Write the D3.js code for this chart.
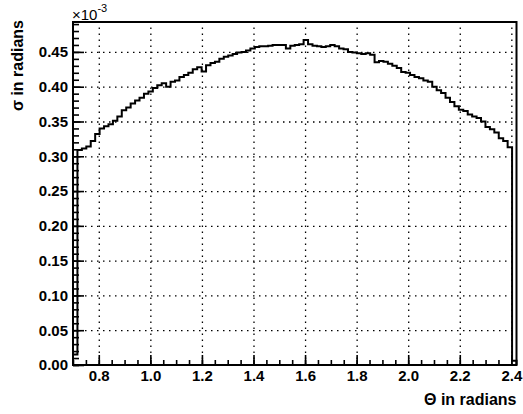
<!DOCTYPE html>
<html>
<head>
<meta charset="utf-8">
<script src="https://cdn.jsdelivr.net/npm/d3@7"></script>
<style>
  body { margin: 0; background: #fff; }
  svg { display: block; font-family: "Liberation Sans", Arial, Helvetica, sans-serif; }
  .grid line { stroke: #000; stroke-width: 1.3; stroke-dasharray: 1.5,4.5; }
</style>
</head>
<body>
<svg id="chart" width="523" height="414"></svg>
<script>
// histogram binning (theta, radians)
const binLow = 0.70;
const binHigh = 2.42;
const nBins = 100;

// sigma per bin, in units of 1e-3 rad
const sigmaValues = [
  0.015, 0.309, 0.311, 0.314, 0.322, 0.332, 0.340, 0.343, 0.346, 0.351,
  0.357, 0.366, 0.370, 0.376, 0.380, 0.384, 0.390, 0.393, 0.398, 0.402,
  0.405, 0.400, 0.407, 0.409, 0.414, 0.417, 0.420, 0.425, 0.428, 0.422,
  0.431, 0.434, 0.436, 0.440, 0.443, 0.445, 0.447, 0.449, 0.450, 0.452,
  0.455, 0.457, 0.458, 0.458, 0.459, 0.460, 0.460, 0.460, 0.455, 0.459,
  0.460, 0.461, 0.467, 0.461, 0.459, 0.458, 0.457, 0.458, 0.460, 0.458,
  0.455, 0.454, 0.450, 0.449, 0.448, 0.447, 0.448, 0.446, 0.435, 0.437,
  0.436, 0.433, 0.430, 0.427, 0.421, 0.420, 0.417, 0.414, 0.412, 0.409,
  0.407, 0.400, 0.395, 0.391, 0.384, 0.378, 0.372, 0.367, 0.365, 0.360,
  0.357, 0.355, 0.350, 0.342, 0.339, 0.334, 0.326, 0.322, 0.313, 0.006
];

// axis ticks
const xMajor = [0.8, 1.0, 1.2, 1.4, 1.6, 1.8, 2.0, 2.2, 2.4];
const xMinor = d3.range(14, 49).map(d => d * 0.05);
const yMajor = [0, 0.05, 0.10, 0.15, 0.20, 0.25, 0.30, 0.35, 0.40, 0.45];
const yMinor = d3.range(0, 50).map(d => d * 0.01);
const yMax = 0.493;

const svg = d3.select("#chart");
const frame = { left: 73, right: 516.5, top: 22, bottom: 365 };
const fw = frame.right - frame.left;
const fh = frame.bottom - frame.top;

const x = d3.scaleLinear().domain([binLow, binHigh]).range([frame.left, frame.right]);
const y = d3.scaleLinear().domain([0, yMax]).range([frame.bottom, frame.top]);

// Grid (dotted)
svg.append("g").classed("grid", true)
  .attr("transform", `translate(0,${frame.bottom})`)
  .call(d3.axisBottom(x).tickValues(xMajor).tickSize(-fh).tickFormat(""))
  .call(g => g.select(".domain").remove());
svg.append("g").classed("grid", true)
  .attr("transform", `translate(${frame.left},0)`)
  .call(d3.axisLeft(y).tickValues(yMajor.filter(d => d > 0)).tickSize(-fw).tickFormat(""))
  .call(g => g.select(".domain").remove());

// Histogram as steps
const bw = (binHigh - binLow) / nBins;
let p = `M${x(binLow)},${y(0)}`;
sigmaValues.forEach((v, i) => {
  p += `V${y(v)}H${x(binLow + (i + 1) * bw)}`;
});
p += `V${y(0)}`;
svg.append("path")
  .attr("d", p)
  .attr("fill", "none")
  .attr("stroke", "#000")
  .attr("stroke-width", 2);

// Minor ticks
svg.append("g")
  .attr("transform", `translate(0,${frame.bottom})`)
  .call(d3.axisBottom(x).tickValues(xMinor).tickSize(-5).tickFormat(""))
  .call(g => g.select(".domain").remove())
  .selectAll("line").attr("stroke-width", 1.6);
svg.append("g")
  .attr("transform", `translate(${frame.left},0)`)
  .call(d3.axisLeft(y).tickValues(yMinor).tickSize(-6).tickFormat(""))
  .call(g => g.select(".domain").remove())
  .selectAll("line").attr("stroke-width", 1.6);

// Major ticks with labels
svg.append("g")
  .attr("transform", `translate(0,${frame.bottom})`)
  .call(d3.axisBottom(x).tickValues(xMajor).tickSize(-10).tickPadding(5).tickFormat(d3.format(".1f")))
  .call(g => g.select(".domain").remove())
  .call(g => g.selectAll("line").attr("stroke-width", 1.6))
  .call(g => g.selectAll("text")
    .style("font-size", "15px").style("font-weight", "bold").style("font-family", "Liberation Sans, Arial, sans-serif"));
svg.append("g")
  .attr("transform", `translate(${frame.left},0)`)
  .call(d3.axisLeft(y).tickValues(yMajor).tickSize(-11).tickPadding(5).tickFormat(d3.format(".2f")))
  .call(g => g.select(".domain").remove())
  .call(g => g.selectAll("line").attr("stroke-width", 1.6))
  .call(g => g.selectAll("text")
    .style("font-size", "15px").style("font-weight", "bold").style("font-family", "Liberation Sans, Arial, sans-serif"));

// Frame
svg.append("rect")
  .attr("x", frame.left).attr("y", frame.top)
  .attr("width", fw).attr("height", fh)
  .attr("fill", "none").attr("stroke", "#000").attr("stroke-width", 2);

// Exponent label
const expo = svg.append("text")
  .attr("x", frame.left - 1).attr("y", 20)
  .style("font-size", "15px");
expo.append("tspan").text("×10");
expo.append("tspan").attr("dy", -8).style("font-size", "11px").text("-3");

// Axis titles
svg.append("text")
  .attr("x", frame.right).attr("y", 405)
  .attr("text-anchor", "end")
  .style("font-size", "16px").style("font-weight", "bold")
  .text("Θ in radians");

svg.append("text")
  .attr("transform", `translate(23,${frame.top - 2}) rotate(-90)`)
  .attr("text-anchor", "end")
  .style("font-size", "16px").style("font-weight", "bold")
  .text("σ in radians");
</script>
</body>
</html>
